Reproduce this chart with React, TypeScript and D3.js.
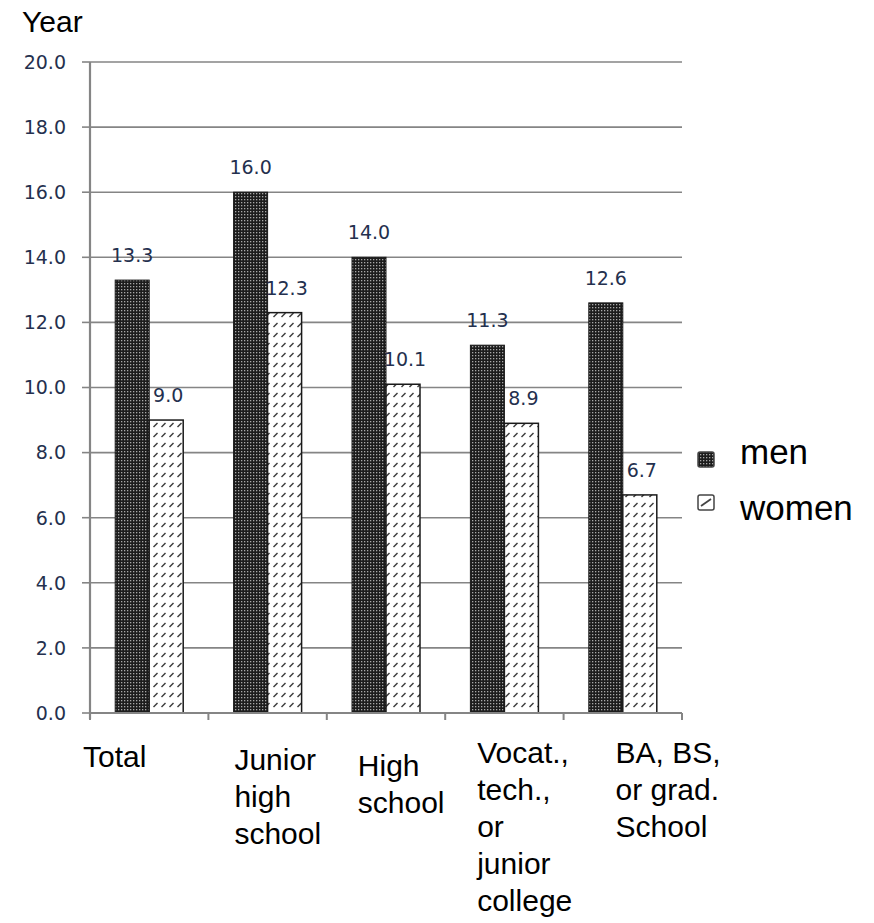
import React from "react";
import * as d3 from "d3";

const categories: string[][] = [
  ["Total"],
  ["Junior", "high", "school"],
  ["High", "school"],
  ["Vocat.,", "tech.,", "or", "junior", "college"],
  ["BA, BS,", "or grad.", "School"],
];
const men = [13.3, 16.0, 14.0, 11.3, 12.6];
const women = [9.0, 12.3, 10.1, 8.9, 6.7];
const seriesNames = ["men", "women"];
const yTicks = [0, 2, 4, 6, 8, 10, 12, 14, 16, 18, 20];

// layout offsets for the category labels (dx from band start, first baseline)
const labelLayout = [
  { dx: -7, y: 767 },
  { dx: 26, y: 770 },
  { dx: 31, y: 776 },
  { dx: 32, y: 763 },
  { dx: 52, y: 763 },
];

export default function App() {
  const W = 874;
  const H = 923;
  const left = 90;
  const right = 682;
  const top = 62;
  const bottom = 713;
  const x = d3
    .scaleBand<number>()
    .domain(d3.range(categories.length))
    .range([left, right]);
  const y = d3.scaleLinear().domain([0, 20]).range([bottom, top]);
  const barW = 34;
  const font = "'Liberation Sans', Arial, sans-serif";
  const numFont = "'DejaVu Sans', Verdana, sans-serif";
  const tickColor = "#24304e";
  const axisColor = "#858585";

  return (
    <svg
      width={W}
      height={H}
      style={{ position: "absolute", left: 0, top: 0, background: "#fff" }}
    >
      <defs>
        <pattern id="dots" width="3" height="3" patternUnits="userSpaceOnUse">
          <rect width="3" height="3" fill="#1c1c1c" />
          <rect x="1" y="1" width="1.3" height="1.3" fill="#a8a8a8" />
        </pattern>
        <pattern id="slash" width="8" height="10" patternUnits="userSpaceOnUse">
          <rect width="8" height="10" fill="#fff" />
          <line x1="1.5" y1="7" x2="5.5" y2="3" stroke="#3a3a3a" strokeWidth="1.5" />
        </pattern>
      </defs>
      <text x={22} y={32} fontFamily={font} fontSize={30} fill="#000">
        Year
      </text>
      {yTicks.map((t) => (
        <g key={t}>
          {t > 0 && (
            <line
              x1={left}
              x2={right}
              y1={y(t)}
              y2={y(t)}
              stroke={axisColor}
              strokeWidth={1.6}
            />
          )}
          <line
            x1={left - 8}
            x2={left}
            y1={y(t)}
            y2={y(t)}
            stroke={axisColor}
            strokeWidth={1.6}
          />
          <text
            x={66}
            y={y(t)}
            dy="0.36em"
            textAnchor="end"
            fontFamily={numFont}
            fontSize={19}
            fill={tickColor}
          >
            {t.toFixed(1)}
          </text>
        </g>
      ))}
      {categories.map((c, i) => {
        const cx = x(i)! + x.bandwidth() / 2;
        return (
          <g key={i}>
            <rect
              x={cx - barW}
              y={y(men[i])}
              width={barW}
              height={bottom - y(men[i])}
              fill="url(#dots)"
              stroke="#1a1a1a"
              strokeWidth={1}
            />
            <rect
              x={cx}
              y={y(women[i])}
              width={barW}
              height={bottom - y(women[i])}
              fill="url(#slash)"
              stroke="#1a1a1a"
              strokeWidth={1.5}
            />
            <text
              x={cx - barW / 2}
              y={y(men[i]) - 18}
              textAnchor="middle"
              fontFamily={numFont}
              fontSize={19}
              fill={tickColor}
            >
              {men[i].toFixed(1)}
            </text>
            <text
              x={cx + barW / 2 + 2}
              y={y(women[i]) - 18}
              textAnchor="middle"
              fontFamily={numFont}
              fontSize={19}
              fill={tickColor}
            >
              {women[i].toFixed(1)}
            </text>
          </g>
        );
      })}
      <line x1={left} x2={left} y1={top} y2={bottom + 6} stroke={axisColor} strokeWidth={2.2} />
      <line x1={left} x2={right} y1={bottom} y2={bottom} stroke={axisColor} strokeWidth={2.2} />
      {d3.range(categories.length + 1).map((i) => {
        const tx = i < categories.length ? x(i)! : right;
        return (
          <line
            key={i}
            x1={tx}
            x2={tx}
            y1={bottom}
            y2={bottom + 7}
            stroke={axisColor}
            strokeWidth={2}
          />
        );
      })}
      {categories.map((lines, i) => (
        <text
          key={i}
          x={x(i)! + labelLayout[i].dx}
          y={labelLayout[i].y}
          fontFamily={font}
          fontSize={30}
          fill="#000"
        >
          {lines.map((l, j) => (
            <tspan key={j} x={x(i)! + labelLayout[i].dx} dy={j === 0 ? 0 : 37}>
              {l}
            </tspan>
          ))}
        </text>
      ))}
      {seriesNames.map((s, i) => (
        <g key={s}>
          <rect
            x={698}
            y={452 + i * 43}
            width={16}
            height={15}
            fill={i === 0 ? "url(#dots)" : "#fff"}
            stroke="#444"
            strokeWidth={1.5}
            rx={2}
          />
          {i === 1 && (
            <line x1={701} y1={506} x2={711} y2={499} stroke="#444" strokeWidth={1.8} />
          )}
          <text
            x={740}
            y={464 + i * 56}
            fontFamily={font}
            fontSize={35}
            fill="#000"
          >
            {s}
          </text>
        </g>
      ))}
    </svg>
  );
}
